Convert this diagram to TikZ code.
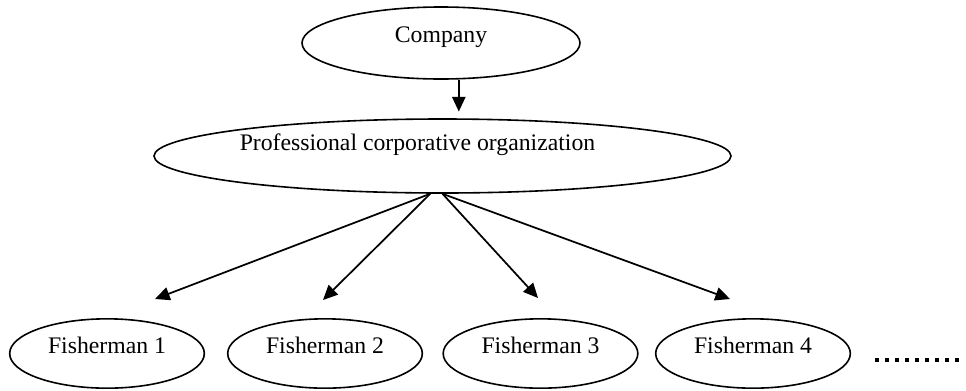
\documentclass[tikz,border=0pt]{standalone}
\usepackage{fontspec}
\setmainfont{Liberation Serif}
\usetikzlibrary{shapes.geometric,arrows.meta}

\begin{document}
\begin{tikzpicture}[x=0.75pt,y=-0.75pt,
        unit/.style={draw,ellipse,line width=1.2pt,inner sep=0pt,
            text height=12pt,text depth=12pt,font=\fontsize{17.8}{20}\selectfont},
        fisher/.style={unit,minimum width=146pt,minimum height=52pt},
        arr/.style={-{Triangle[length=11pt,width=10pt]},line width=1.3pt}]
        \useasboundingbox (0,0) rectangle (966,390);

        \node[unit,minimum width=208.5pt,minimum height=54pt,text depth=13.5pt] (comp) at (441,43) {Company};
        \node[unit,minimum width=432.75pt,minimum height=55.5pt,text depth=21pt] (org) at (442.5,156)
            {Professional corporative organization\kern37.5pt};

        \node[fisher] (f1) at (107,353.5) {Fisherman 1};
        \node[fisher] (f2) at (325,353.5) {Fisherman 2};
        \node[fisher] (f3) at (540.5,353.5) {Fisherman 3};
        \node[fisher] (f4) at (753,353.5) {Fisherman 4};

        \coordinate (t1) at (155,299);
        \coordinate (t2) at (323,300);
        \coordinate (t3) at (538,298);
        \coordinate (t4) at (730,299);

        \draw[arr,shorten >=5pt] (comp.-64.5) -- (comp.-64.5 |- org.north);
        \draw[arr] (org.-108.7) -- (t1);
        \draw[arr] (org.-108.7) -- (t2);
        \draw[arr] (org.south) -- (t3);
        \draw[arr] (org.south) -- (t4);

        \draw[line width=3pt,dash pattern=on 3pt off 4.5pt] (875,360) -- (961,360);
    \end{tikzpicture}
\end{document}
